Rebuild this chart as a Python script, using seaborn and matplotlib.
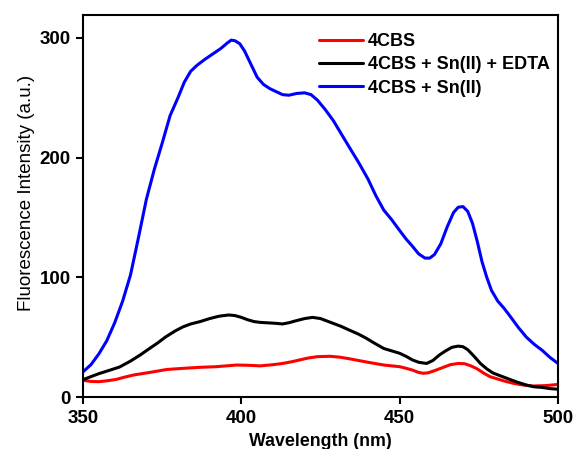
import numpy as np
import pandas as pd
import matplotlib
matplotlib.use("Agg")
import matplotlib.pyplot as plt
import seaborn as sns

# ---- data ----
wl_red = [350, 352.5, 355, 357.5, 360.5, 363, 366, 371, 376.5, 382, 387, 392, 398.5,
          402, 406, 410, 413, 416, 418.5, 421, 424, 428, 431, 434, 437, 440, 445,
          450, 452, 454, 456, 457.5, 459, 461, 463, 466, 468.5, 470.5, 472.5, 474.5,
          476.5, 478.5, 481, 483.5, 486, 489, 492, 496, 500]
val_red = [14, 13, 12.8, 13.5, 14.7, 16.5, 18.4, 20.5, 23, 24, 24.8, 25.3, 26.7,
           26.5, 26, 27, 28, 29.5, 31, 32.5, 33.7, 34, 33.3, 32, 30.5, 29, 26.7,
           25.3, 24, 22.5, 20.5, 19.8, 20.2, 22, 24, 27, 28, 27.8, 26, 23.5,
           20, 17, 15, 13, 11.4, 10, 9.2, 9.5, 10.5]

wl_black = [350, 352.5, 355, 358, 361.5, 365, 368, 371, 373.5, 376, 379, 381.5, 384,
            387, 390, 393, 396, 398, 400, 402, 404, 406, 408, 411, 413, 415, 417,
            420, 422.5, 425, 427, 429, 431.5, 434, 437, 439.5, 442, 445, 447.5, 450,
            452, 454, 456, 458.5, 460.5, 462.5, 464.5, 466.5, 468.5, 470, 471.5,
            473.5, 475.5, 477.5, 479.5, 482, 484, 487, 490, 492.5, 495, 497.5, 500]
val_black = [14.5, 17, 19.5, 22, 25, 30, 35, 40.5, 45, 50, 55, 58.5, 61,
             63, 65.5, 67.5, 68.5, 68, 66.5, 64.5, 63, 62.3, 62, 61.5, 61, 62, 63.5,
             65.5, 66.5, 65.5, 63.5, 61.5, 59, 56, 52.5, 49, 45, 40.5, 38.5, 36.5,
             34, 31, 29, 28, 30.5, 35, 38.5, 41.5, 42.5, 42, 39.5,
             34, 28, 23.5, 20, 17.5, 15.5, 12.5, 10, 8.5, 8, 7, 6.5]

wl_blue = [350, 352.5, 355, 357.5, 360, 362.5, 365, 367.5, 370, 372.5, 375, 377.5,
           380, 382, 384, 386, 388.5, 391, 393.5, 395.5, 396.8, 398, 399.5, 401,
           403, 405, 407, 409, 411, 413, 415, 417.5, 420, 422, 424, 426.5, 429,
           431.5, 434, 437, 440, 442.5, 445, 447.5, 450, 452, 454, 456, 458,
           459.5, 461, 463, 465, 467, 468.5, 470, 471.5, 473, 474.5, 476, 477.5,
           479, 481, 483, 485, 487.5, 490, 492.5, 495, 497.5, 500]
val_blue = [21, 27, 36, 47, 62, 80, 102, 133, 165, 190, 212, 235,
            250, 263, 272, 277, 282, 286.5, 291, 295.5, 298, 297.5, 295, 289,
            278, 267, 261, 257.5, 255, 252.5, 252, 253.5, 254, 252.5, 248, 240, 231,
            220, 209, 196, 182, 168, 156, 148, 139, 132, 126, 119.5, 116,
            116, 119, 128, 142, 154, 158.5, 159, 155, 145, 130, 113, 100,
            89, 80, 74, 67, 58, 50, 44, 39, 33, 28]

labels = ["4CBS", "4CBS + Sn(II) + EDTA", "4CBS + Sn(II)"]
colors = ["#ff0000", "#000000", "#0000ff"]
x_ticks = [350, 400, 450, 500]
y_ticks = [0, 100, 200, 300]

df = pd.concat([
    pd.DataFrame({"Wavelength": wl_red, "Intensity": val_red, "Sample": labels[0]}),
    pd.DataFrame({"Wavelength": wl_black, "Intensity": val_black, "Sample": labels[1]}),
    pd.DataFrame({"Wavelength": wl_blue, "Intensity": val_blue, "Sample": labels[2]}),
], ignore_index=True)

sns.set_style("ticks")
plt.rcParams["font.family"] = ["Liberation Sans", "DejaVu Sans"]
plt.rcParams["text.color"] = "black"
plt.rcParams["axes.labelcolor"] = "black"
plt.rcParams["xtick.color"] = "black"
plt.rcParams["ytick.color"] = "black"
plt.rcParams["lines.solid_joinstyle"] = "round"
plt.rcParams["lines.solid_capstyle"] = "round"

fig = plt.figure(figsize=(5.73, 4.49), dpi=100)
ax = fig.add_axes([0.1449, 0.1158, 0.8289, 0.8508])

sns.lineplot(data=df, x="Wavelength", y="Intensity", hue="Sample",
             hue_order=labels, palette=colors, linewidth=2.2, ax=ax,
             sort=True, estimator=None)

ax.set_xlim(350, 500)
ax.set_ylim(0, 319)
ax.set_xticks(x_ticks)
ax.set_yticks(y_ticks)
ax.tick_params(direction="out", length=5, width=1.5, labelsize=13.5, pad=4)
for lab in ax.get_xticklabels() + ax.get_yticklabels():
    lab.set_fontweight("bold")
for sp in ax.spines.values():
    sp.set_visible(True)
    sp.set_linewidth(1.5)
    sp.set_color("black")

ax.set_xlabel("Wavelength (nm)", fontsize=12.8, fontweight="bold", labelpad=5)
ax.set_ylabel("Fluorescence Intensity (a.u.)", fontsize=13.5)
ax.yaxis.set_label_coords(-0.101, 0.534)

leg = ax.legend(loc="upper right", bbox_to_anchor=(1.017, 0.995), frameon=False,
                handlelength=2.4, handletextpad=0.3, labelspacing=0.35,
                prop={"weight": "bold", "size": 13})
for h in leg.get_lines():
    h.set_linewidth(2.2)

fig.savefig("out.png", dpi=100)
